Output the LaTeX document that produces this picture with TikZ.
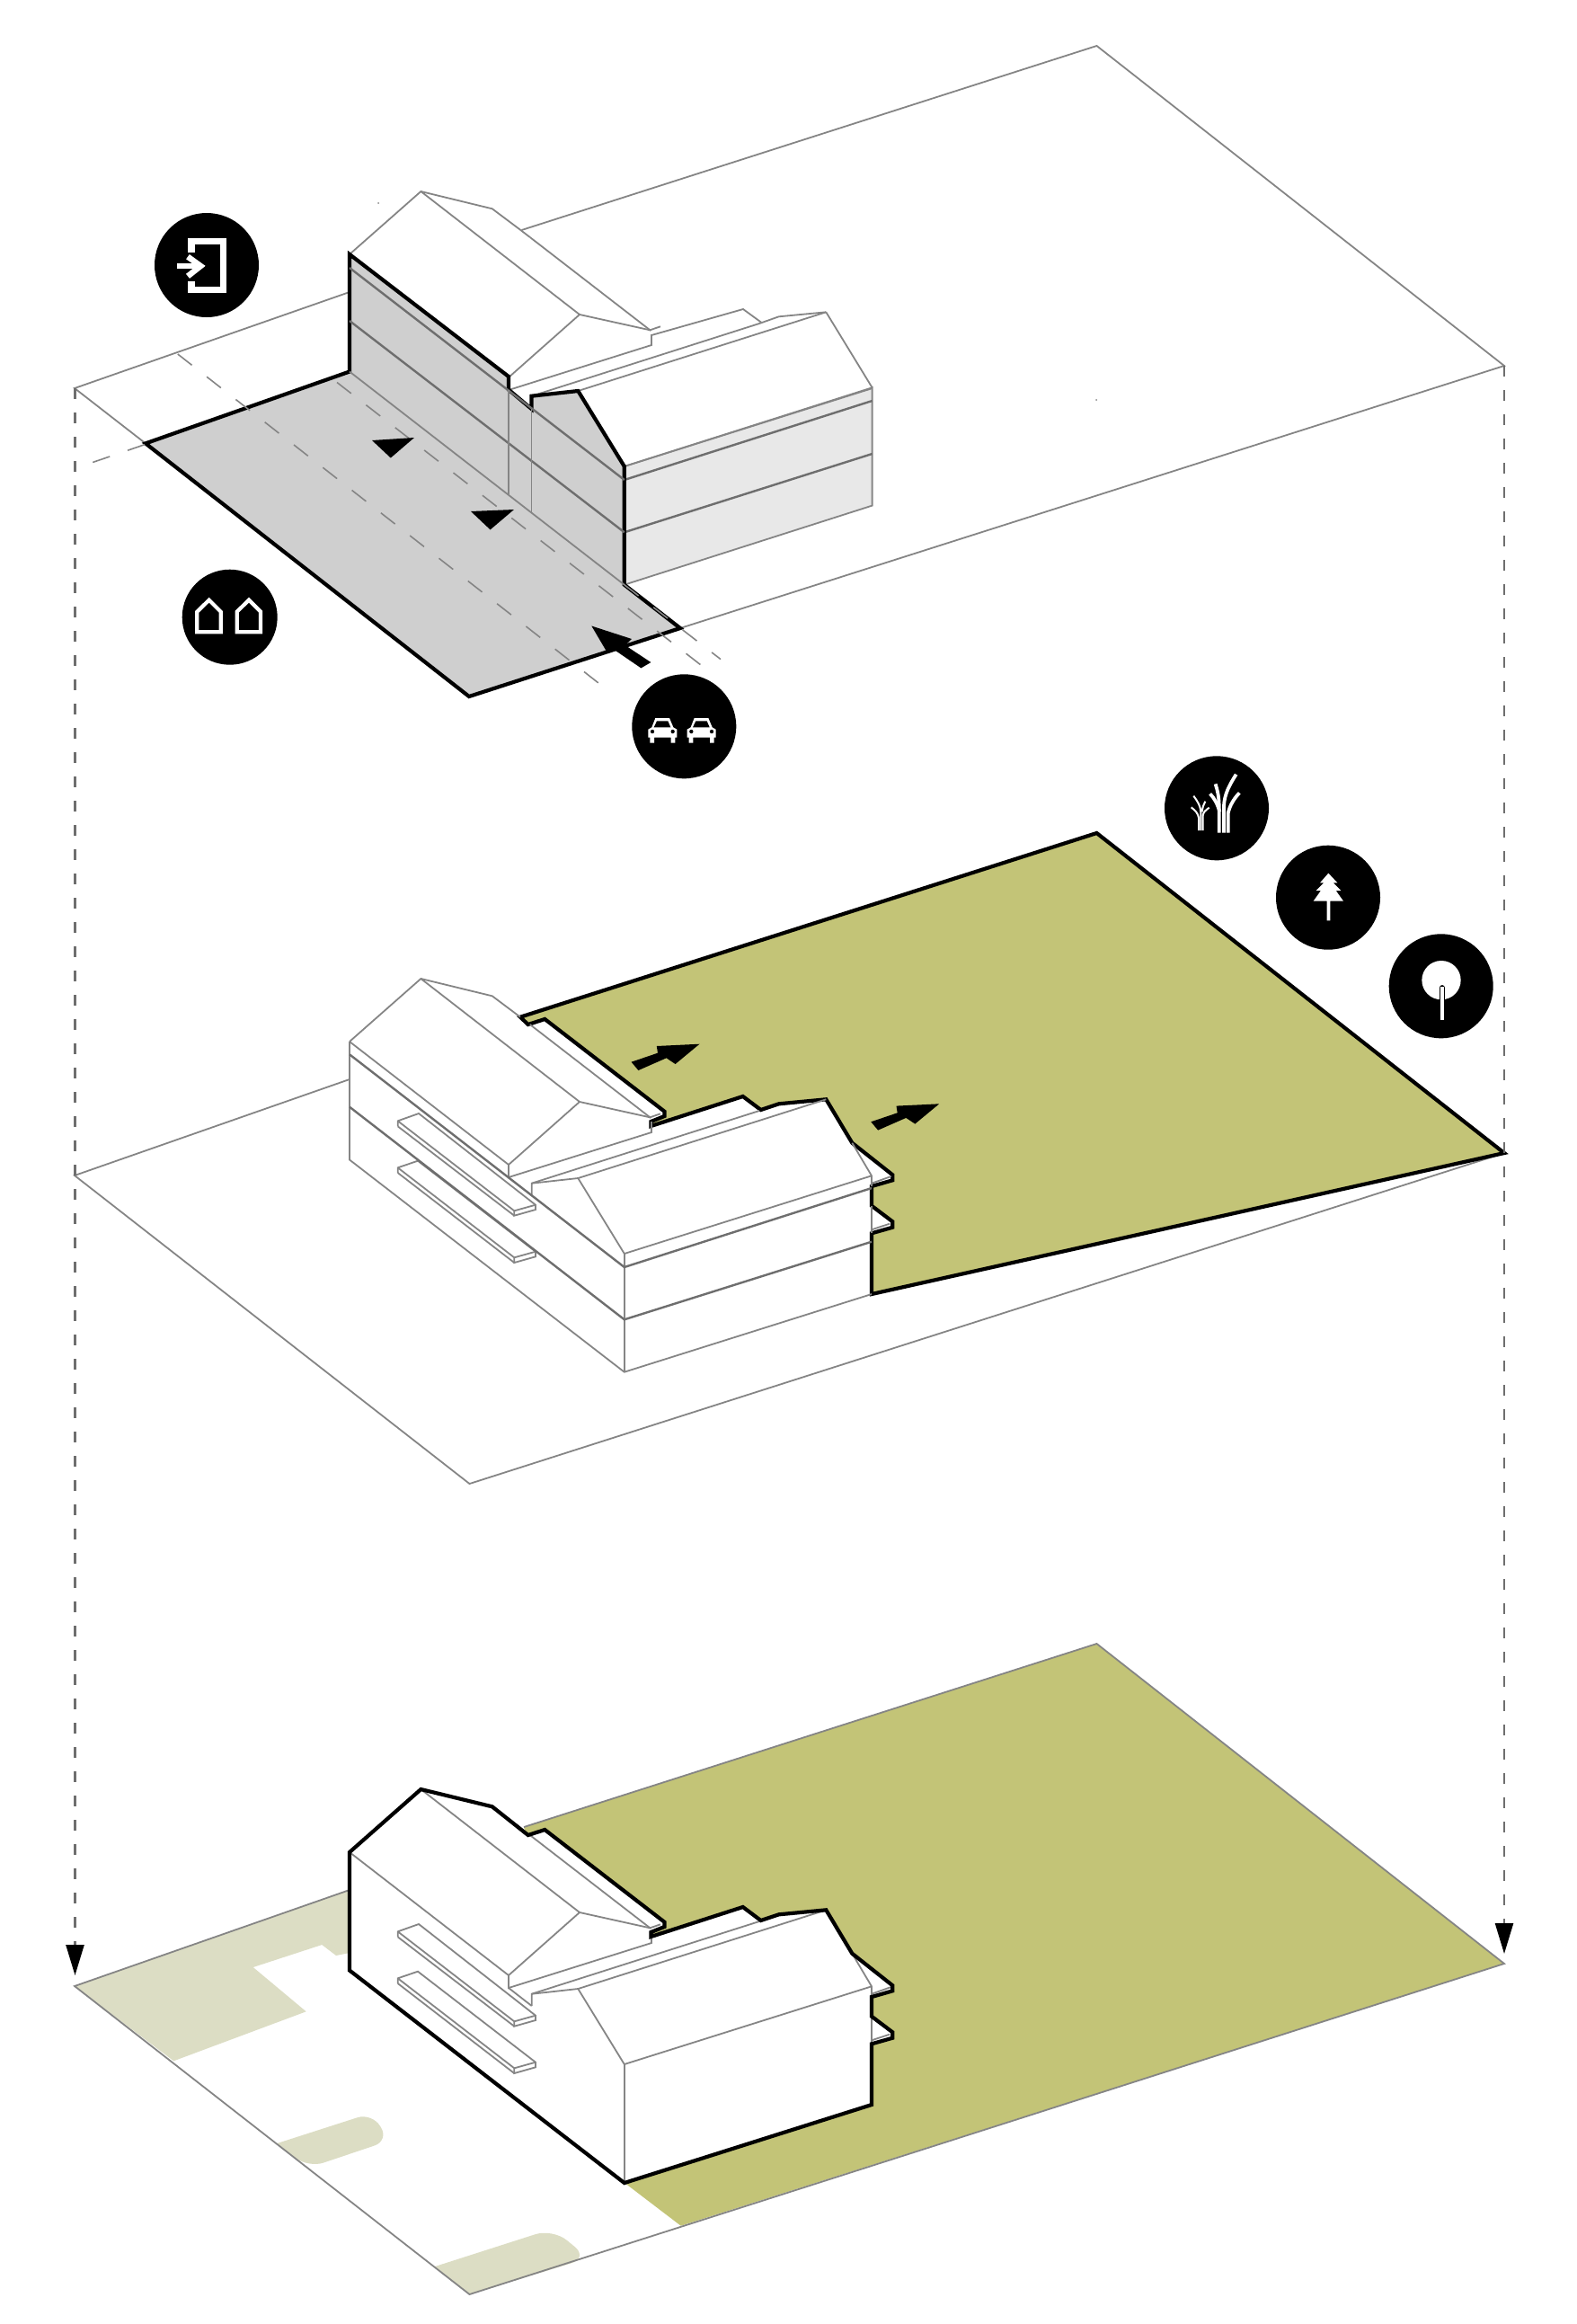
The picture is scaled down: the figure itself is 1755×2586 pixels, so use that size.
\documentclass[tikz,border=0pt]{standalone}
\usepackage{tikz}
\usetikzlibrary{arrows.meta}
\definecolor{lawn}{HTML}{C3C477}
\definecolor{paving}{HTML}{DCDDC4}
\definecolor{roadgrey}{HTML}{CFCFCF}
\definecolor{facade}{HTML}{E8E8E8}
\definecolor{linegrey}{HTML}{858585}
\definecolor{eavegrey}{HTML}{6E6E6E}
\tikzset{plotline/.style={draw=linegrey, line width=1.8pt}}
\tikzset{eaveline/.style={draw=eavegrey, line width=2.4pt}}
\tikzset{cutline/.style={draw=black, line width=4.2pt}}
\tikzset{roadline/.style={draw=linegrey, line width=1.6pt, dash pattern=on 20pt off 21pt}}
\tikzset{dropline/.style={draw=eavegrey, line width=2.4pt, dash pattern=on 12pt off 15pt, -{Triangle[length=34pt,width=20pt,black]}}}
\tikzset{badge/.style={circle, fill=black, draw=none, inner sep=0pt, minimum size=116pt}}
\tikzset{iconline/.style={draw=white, line width=#1, line cap=butt}}
% roof lines shared by the three floors
\newcommand{\roofLines}{
	\draw[plotline] (389,283) -- (468.4,213) -- (547.8,232.3) -- (579,255.7);
	\draw[plotline] (468.4,213) -- (645,350) -- (723.3,367.3) -- (735,363.3);
	\draw[plotline] (389,283) -- (566,420) -- (645,350);
	\draw[plotline] (589.8,264) -- (724.3,368);
	\draw[plotline] (566,420) -- (566,434) -- (725,384) -- (725,372);
	\draw[plotline] (591.7,454) -- (591.7,440.7) -- (845,360);
	\draw[plotline] (591.7,440.7) -- (643.3,435) -- (919.3,347.3);
	\draw[plotline] (643.3,435) -- (694.8,519) -- (970,432.3);
	\draw[plotline] (694.8,519) -- (694.8,650.7);
}
% back and side parts of the house outside the cut floor
\newcommand{\houseBack}{
	\draw[plotline] (948.3,395.7) -- (970,432.3) -- (970,444);
	\draw[plotline] (970,440.7) -- (991.7,433);
	\draw[plotline] (970,465.7) -- (970,496);
	\draw[plotline] (970,492.3) -- (990,485.7);
}
\newcommand{\balconies}{
	\draw[plotline] (442.7,377.3) -- (442.7,371.3) -- (466,363) -- (596,464.7) -- (596,470) -- (572.3,476.7) -- (572.3,471.3) -- (442.7,371.3);
	\draw[plotline] (442.7,377.3) -- (572.3,476.7) (572.3,471.3) -- (596,464.7);
	\draw[plotline] (442.7,429) -- (442.7,423.3) -- (465,415.7) -- (596,516.7) -- (596,522.3) -- (572.3,529) -- (572.3,523.3) -- (442.7,423.3);
	\draw[plotline] (442.7,429) -- (572.3,529) (572.3,523.3) -- (596,516.7);
}
\newcommand{\houseOutline}[1]{
	\path[#1] (389,283) -- (468.4,213) -- (547.8,232.3) -- (587.7,264) -- (606.3,258) -- (739.4,360.7) -- (739.4,366) -- (724.4,372) -- (724.4,377) -- (826.7,344) -- (846.7,359) -- (866.7,352.3) -- (919.3,347.3) -- (948.3,395.7) -- (993.3,431.3) -- (993.3,437.3) -- (970,444) -- (970,465.7) -- (993.3,483.3) -- (993.3,489.7) -- (970,496.3) -- (970,564) -- (694.8,651) -- (389,414.5) -- cycle;
}
\begin{document}
\begin{tikzpicture}[x=1pt, y=-1pt]
	\useasboundingbox (0,0) rectangle (1755,2586);
	%
	% top floor: street
	\draw[plotline] (389,325) -- (83,432) -- (162,493.4);
	\draw[plotline] (757,699) -- (1674,407) -- (1220.5,51) -- (580.5,256);
	\fill[linegrey] (421,226) circle (1) (1220,445) circle (1) (1220,1321) circle (1) (1220,2223) circle (1);
	\filldraw[plotline, fill=facade] (694.8,519) -- (970.6,431.3) -- (970.6,562.6) -- (694.8,650.7) -- cycle;
	\draw[eaveline] (694.8,534) -- (970.6,446);
	\draw[eaveline] (694.8,592.3) -- (970.6,505);
	\roofLines
	\draw[plotline] (579,255.7) -- (589.8,264);
	\draw[plotline] (919.3,347.3) -- (970.6,431.3);
	\draw[plotline] (725,373) -- (827,344) -- (847,358.6);
	\draw[plotline] (845,360) -- (866.7,352.3) -- (919.3,347.3);
	\filldraw[cutline, fill=roadgrey] (389,283) -- (566,419) -- (566,433.6) -- (591.5,455) -- (591.5,440.7) -- (643.3,435) -- (694.8,519) -- (694.8,650.7) -- (757,699) -- (522,775) -- (162,493.4) -- (389,413.5) -- cycle;
	\draw[eaveline] (389,298) -- (694.8,534);
	\draw[eaveline] (389,357) -- (694.8,592.3);
	\draw[plotline] (389,413.5) -- (694.8,650.7);
	\draw[plotline] (566,433.6) -- (566,549.6);
	\draw[plotline] (591.5,455) -- (591.5,570.6);
	\draw[roadline] (197.8,394) -- (666,760);
	\draw[roadline] (375,425.5) -- (789,747);
	\draw[roadline] (694.8,650.7) -- (802,733.6);
	\draw[roadline] (161,494.7) -- (101.6,515);
	\fill (414,490) -- (461,487) -- (434.8,509.5) -- cycle;
	\fill (524,569) -- (572,567) -- (545.6,589.4) -- cycle;
	\fill (658.3,696.5) -- (703,711) -- (695.6,718) -- (724.4,737) -- (713.4,743.4) -- (684.6,723.7) -- (675.4,725.5) -- cycle;
	%
	\node[badge] (doorbadge) at (230,295) {};
	\begin{scope}[shift={(160,220)}, scale=1/3]
		\draw[iconline=7.4pt] (159,182) -- (159,145) -- (265,145) -- (265,307) -- (159,307) -- (159,278);
		\draw[iconline=6.4pt] (112,228) -- (186,228);
		\draw[iconline=6.4pt] (147,197) -- (190,228) -- (147,262);
	\end{scope}
	\node[badge, minimum size=106pt] (homebadge) at (255.7,686.7) {};
	\begin{scope}[shift={(190,620)}, scale=1/3]
		\foreach \dx in {0,133} {
			\draw[iconline=4.2pt] (88+\dx,250) -- (88+\dx,182) -- (128+\dx,143) -- (167+\dx,182) -- (167+\dx,250) -- cycle;
		}
	\end{scope}
	\node[badge] (carbadge) at (761.3,808.3) {};
	\begin{scope}[shift={(690,730)}, scale=1/3]
		\foreach \dx in {0,130} {
			\fill[white] (118+\dx,207) -- (165+\dx,207) -- (178+\dx,238) -- (190+\dx,245) -- (190+\dx,272) -- (184+\dx,272) -- (184+\dx,290) -- (170+\dx,290) -- (170+\dx,272) -- (114+\dx,272) -- (114+\dx,290) -- (100+\dx,290) -- (100+\dx,272) -- (94+\dx,272) -- (94+\dx,245) -- (106+\dx,238) -- cycle;
			\fill[black] (123+\dx,217) -- (160+\dx,217) -- (169+\dx,238) -- (113+\dx,238) -- cycle;
			\fill[black] (108+\dx,252) circle (6.5) (176+\dx,252) circle (6.5);
		}
	\end{scope}
	%
	% middle floor: garden
	\begin{scope}[shift={(0,876)}]
		\draw[plotline] (389,325) -- (83,432) -- (522.5,775) -- (1674,407);
		\filldraw[cutline, fill=lawn] (579,255.7) -- (1220.5,51) -- (1674,407) -- (970,564) -- (970,496.3) -- (993.3,489.7) -- (993.3,483.3) -- (970,465.7) -- (970,444) -- (993.3,437.3) -- (993.3,431.3) -- (948.3,395.7) -- (919.3,347.3) -- (866.7,352.3) -- (846.7,359) -- (826.7,344) -- (724.4,377) -- (724.4,372) -- (739.4,366) -- (739.4,360.7) -- (606.3,258) -- (587.7,264) -- cycle;
		\draw[plotline] (389,283) -- (389,414.5) -- (694.8,650.7) -- (970,564);
		\roofLines
		\houseBack
		\balconies
		\draw[eaveline] (389,297.3) -- (694.8,534) -- (970,446);
		\draw[eaveline] (389,355.7) -- (694.8,592.3) -- (970,505.7);
		\foreach \dx/\dy in {0/0,266.7/66.6} {
			\fill (702.6+\dx,305.7+\dy) -- (732+\dx,295.7+\dy) -- (730.8+\dx,288+\dy) -- (778.5+\dx,285.7+\dy) -- (751.6+\dx,308+\dy) -- (741.6+\dx,301.3+\dy) -- (710.4+\dx,315+\dy) -- cycle;
		}
	\end{scope}
	\node[badge] (grassbadge) at (1354,899.3) {};
	\node[badge] (pinebadge) at (1478,998.7) {};
	\node[badge] (treebadge) at (1603.7,1097.3) {};
	\begin{scope}[shift={(1270,820)}, scale=1/3]
		\draw[iconline=3.8pt] (260,320) -- (260,235) .. controls (260,200) and (255,180) .. (248,157);
		\draw[iconline=3.8pt] (276,320) -- (276,230) .. controls (278,190) and (295,160) .. (317,125);
		\draw[iconline=3.8pt] (290,320) -- (290,255) .. controls (295,230) and (310,205) .. (328,187);
		\draw[iconline=3.8pt] (262,250) .. controls (255,225) and (245,205) .. (230,190);
		\draw[iconline=2pt] (192,312) -- (192,270) .. controls (190,255) and (180,245) .. (167,235);
		\draw[iconline=2pt] (199,312) -- (199,250) .. controls (198,230) and (188,215) .. (175,197);
		\draw[iconline=2pt] (206,312) -- (206,262) .. controls (208,250) and (215,245) .. (227,236);
		\draw[iconline=2pt] (203,250) .. controls (205,235) and (208,225) .. (214,215);
		\fill[white] (625,455) -- (655,487) -- (641,487) -- (667,513) -- (650,513) -- (675,548) -- (631,548) -- (631,613) -- (620,613) -- (620,548) -- (575,548) -- (600,513) -- (584,513) -- (610,487) -- (597,487) -- cycle;
		\fill[white] (1002,812) circle (65);
		\draw[black, line width=6.6pt, line cap=round] (1004.5,838) -- (1004.5,880);
		\draw[iconline=3.4pt] (1004.5,835) -- (1004.5,946);
	\end{scope}
	%
	% bottom floor: whole plot
	\begin{scope}[shift={(0,1778)}]
		\fill[paving] (83,432) -- (389,325) -- (389,395) -- (374,398) -- (358.3,386) -- (281.7,411) -- (340.7,460.3) -- (193.3,515.3) -- cycle;
		\fill[paving, rounded corners=17pt] (307.4,607.3) -- (414,573) -- (433,604) -- (343.8,634) [sharp corners] -- cycle;
		\fill[paving, rounded corners=20pt] (482.8,744.4) -- (615,702) -- (655,734.5) [sharp corners] -- (522.5,775) -- cycle;
		\fill[lawn] (583,255) -- (1220.5,51) -- (1674,407) -- (757.7,698.7) -- (694.8,650.7) -- cycle;
		\draw[plotline] (389,325) -- (83,432) -- (522.5,775) -- (1674,407) -- (1220.5,51) -- (583,255);
		\houseOutline{fill=white}
		\roofLines
		\houseBack
		\balconies
		\draw[plotline] (566,434) -- (591.7,454);
		\houseOutline{cutline}
	\end{scope}
	%
	\coordinate (plotleft) at (83.5,432);
	\coordinate (plotright) at (1674,407);
	\coordinate (arrivalleft) at (83.5,2198);
	\coordinate (arrivalright) at (1674,2174);
	\draw[dropline] (plotleft) -- (arrivalleft);
	\draw[dropline] (plotright) -- (arrivalright);
\end{tikzpicture}
\end{document}
